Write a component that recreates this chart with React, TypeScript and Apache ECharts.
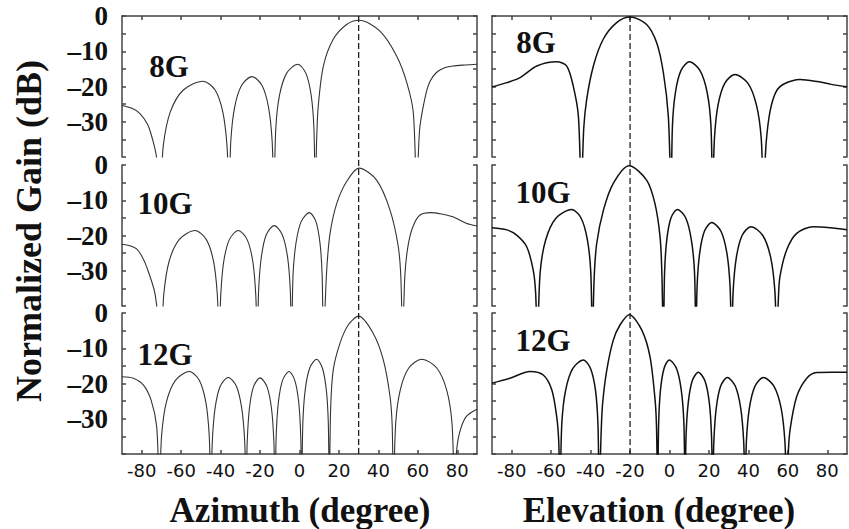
import React, { useEffect, useRef } from "react";
import * as echarts from "echarts";

const xTickValues = [-80, -60, -40, -20, 0, 20, 40, 60, 80];
const yLabelValues = [0, -10, -20, -30];
const freqLabels = ["8G", "10G", "12G"];
const beamAzimuth = 30;
const beamElevation = -20;

const az8 = [
  [-90, -25.4], [-85, -26.2], [-81, -27.6], [-77, -30.8], [-74.5, -35], [-72.5, -40], [-70.7, -50],
  [-69.0, -36.5], [-65.5, -27.2], [-58.9, -21.0], [-48.9, -18.5], [-42.8, -21.0], [-38.9, -27.2], [-36.8, -36.5], [-35.7, -50],
  [-34.8, -35.2], [-32.9, -25.9], [-29.4, -19.7], [-24.1, -17.2], [-19.0, -19.7], [-15.7, -25.9], [-13.9, -35.2], [-13.0, -50],
  [-12.0, -31.7], [-10.1, -22.4], [-6.5, -16.2], [-0.9, -13.7], [3.2, -16.2], [5.9, -22.4], [7.3, -31.7], [8.0, -50],
  [8.7, -35], [9.5, -25.6], [12.1, -14.2], [17.1, -6.6], [23.9, -2.4], [30.3, -1.2], [40.8, -4.3], [49.3, -11.4], [54.4, -18.9], [57.7, -27.4], [59.4, -50],
  [60.2, -40], [61.1, -31.2], [64.2, -21.8], [66.2, -18.5], [69.3, -16.1], [73, -14.8], [77.8, -14.2], [84, -13.9], [90, -13.7],
];

const el8 = [
  [-90, -20.1], [-82.5, -18.9], [-75.8, -17.5], [-67.3, -14.2], [-57.2, -13.0], [-52.1, -14.2], [-48.8, -19.9], [-46.2, -28.4], [-44.7, -50],
  [-43.5, -32], [-42.0, -23.7], [-38.6, -14.2], [-33.6, -6.6], [-26.8, -1.9], [-20.0, -0.3], [-11.6, -2.4], [-6.5, -7.6], [-3.1, -16.1], [-0.6, -28.4], [0.8, -50],
  [1.5, -31.0], [3.0, -21.7], [5.8, -15.5], [10.1, -13.0], [15.5, -15.5], [19.1, -21.7], [21.0, -31.0], [21.9, -50],
  [22.8, -34.6], [24.6, -25.3], [28.0, -19.1], [33.2, -16.6], [39.8, -19.1], [44.1, -25.3], [46.5, -34.6], [47.6, -50],
  [49.0, -36], [51.0, -27], [54.0, -21.5], [58.0, -19.3], [66.2, -18.0], [75, -18.6], [82, -19.4], [90, -20.1],
];

const az10 = [
  [-90, -22.5], [-86, -22.9], [-82.6, -23.8], [-80, -25.8], [-77.5, -28.9], [-73.3, -36.4], [-70.2, -50],
  [-68.8, -36.6], [-66.1, -27.3], [-60.9, -21.1], [-53.0, -18.6], [-47.3, -21.1], [-43.6, -27.3], [-41.7, -36.6], [-40.7, -50],
  [-39.9, -36.6], [-38.4, -27.3], [-35.5, -21.1], [-31.1, -18.6], [-26.6, -21.1], [-23.7, -27.3], [-22.2, -36.6], [-21.4, -50],
  [-20.7, -35.2], [-19.3, -25.9], [-16.8, -19.7], [-12.8, -17.2], [-8.8, -19.7], [-6.1, -25.9], [-4.7, -35.2], [-4.0, -50],
  [-3.3, -31.5], [-1.8, -22.2], [0.9, -16.0], [5.0, -13.5], [8.3, -16.0], [10.4, -22.2], [11.5, -31.5], [12.1, -50],
  [13.8, -29.8], [15.5, -19.4], [18.9, -10.9], [23.9, -4.7], [30.2, -0.9], [39.1, -4.3], [45.9, -12.8], [50.1, -23.2], [51.4, -32], [52.3, -50],
  [53.4, -31.6], [55.0, -23], [57.5, -17.5], [61.1, -14.2], [66.5, -13.5], [72, -13.9], [77.8, -14.7], [84.5, -16.5], [90, -17.3],
];

const el10 = [
  [-90, -17.8], [-82.5, -18.4], [-77.5, -19.9], [-72.4, -23.2], [-69.1, -29.8], [-67.9, -36], [-67.0, -50],
  [-65.6, -30.6], [-62.8, -21.3], [-57.6, -15.1], [-49.6, -12.6], [-44.8, -15.1], [-41.6, -21.3], [-39.9, -30.6], [-39.1, -50],
  [-38.2, -32], [-36.9, -22.2], [-33.5, -12.8], [-28.5, -5.2], [-20.5, -0.2], [-11.6, -4.3], [-7.4, -10.9], [-4.8, -20.3], [-3.9, -30], [-3.1, -50],
  [-2.5, -30.6], [-1.4, -21.3], [0.7, -15.1], [4.0, -12.6], [8.3, -15.1], [11.1, -21.3], [12.7, -30.6], [13.4, -50],
  [14.0, -34.3], [15.3, -25.0], [17.7, -18.8], [21.4, -16.3], [26.1, -18.8], [29.1, -25.0], [30.7, -34.3], [31.5, -50],
  [32.3, -35.5], [33.9, -26.2], [36.8, -20.0], [41.3, -17.5], [47.3, -20.0], [51.3, -26.2], [53.4, -35.5], [54.4, -50],
  [55.2, -38], [56, -31.7], [59.4, -24.1], [64.5, -19.4], [73, -17.5], [81.4, -17.8], [90, -18.4],
];

const az12 = [
  [-90, -18.1], [-84.3, -18.5], [-79.2, -20.4], [-75.2, -24.8], [-72.4, -32.3], [-71.1, -50],
  [-69.9, -34.6], [-67.5, -25.3], [-62.9, -19.1], [-55.9, -16.6], [-50.8, -19.1], [-47.5, -25.3], [-45.8, -34.6], [-44.9, -50],
  [-44.2, -36.3], [-42.8, -27.0], [-40.2, -20.8], [-36.1, -18.3], [-32.0, -20.8], [-29.3, -27.0], [-27.8, -36.3], [-27.1, -50],
  [-26.5, -36.4], [-25.4, -27.1], [-23.3, -20.9], [-20.0, -18.4], [-16.5, -20.9], [-14.2, -27.1], [-13.0, -36.4], [-12.4, -50],
  [-11.8, -34.6], [-10.7, -25.3], [-8.6, -19.1], [-5.3, -16.6], [-2.4, -19.1], [-0.4, -25.3], [0.6, -34.6], [1.1, -50],
  [1.7, -31.1], [2.9, -21.8], [5.2, -15.6], [8.7, -13.1], [11.6, -15.6], [13.6, -21.8], [14.6, -31.1], [15.1, -50],
  [15.8, -27], [17.1, -16.2], [20.5, -8.6], [24.7, -3.4], [30.0, -0.9], [37.4, -5.8], [42.5, -13.3], [45.9, -23.7], [47.0, -32], [47.6, -50],
  [48.8, -31.1], [51.1, -21.8], [55.4, -15.6], [62.0, -13.1], [69.6, -15.6], [74.6, -21.8], [77.3, -31.1], [78.6, -50],
  [79.5, -40], [81.1, -34.1], [84.5, -29.4], [90, -27.3],
];

const el12 = [
  [-90, -19.9], [-80.9, -18.5], [-70.7, -16.6], [-64.0, -17.6], [-59.7, -21.8], [-57.2, -29.4], [-56.2, -36], [-55.5, -50],
  [-54.6, -31.3], [-52.7, -22.0], [-49.1, -15.8], [-43.7, -13.3], [-40.0, -15.8], [-37.5, -22.0], [-36.3, -31.3], [-35.6, -50],
  [-34.6, -33], [-33.9, -25.6], [-31.8, -16.2], [-28.5, -7.7], [-25.1, -3.4], [-20.4, -0.5], [-14.1, -4.8], [-9.9, -12.4], [-7.3, -24.7], [-6.6, -32], [-6.0, -50],
  [-5.5, -31.3], [-4.6, -22.0], [-2.8, -15.8], [-0.1, -13.3], [3.6, -15.8], [6.0, -22.0], [7.3, -31.3], [7.9, -50],
  [8.4, -34.8], [9.5, -25.5], [11.5, -19.3], [14.6, -16.8], [18.0, -19.3], [20.2, -25.5], [21.3, -34.8], [21.9, -50],
  [22.5, -36.3], [23.7, -27.0], [25.9, -20.8], [29.3, -18.3], [33.4, -20.8], [36.1, -27.0], [37.6, -36.3], [38.3, -50],
  [39.0, -36.3], [40.5, -27.0], [43.3, -20.8], [47.6, -18.3], [53.0, -20.8], [56.6, -27.0], [58.5, -36.3], [59.4, -50],
  [60.2, -40], [61.1, -33.2], [64.5, -23.7], [69.6, -18.5], [74.7, -16.9], [82, -16.8], [90, -16.8],
];

const SERIF = '"Liberation Serif", "Times New Roman", Times, serif';
const SANS = '"DejaVu Sans", Verdana, sans-serif';
const AXIS_COLOR = "#444";

export default function App() {
  const ref = useRef<HTMLDivElement>(null);

  useEffect(() => {
    const chart = echarts.init(ref.current!, null, { renderer: "svg" });
    const curves = [az8, el8, az10, el10, az12, el12];
    const colLeft = [122, 492];
    const rowTop = [16, 165, 313];
    const W = 355;
    const H = 141;

    const grids: any[] = [];
    const xAxes: any[] = [];
    const yAxes: any[] = [];
    const series: any[] = [];
    const axisLineStyle = { color: AXIS_COLOR, width: 1.5 };

    for (let i = 0; i < 6; i++) {
      const row = Math.floor(i / 2);
      const col = i % 2;
      grids.push({ left: colLeft[col], top: rowTop[row], width: W, height: H, containLabel: false });
      const isBottom = row === 2;
      xAxes.push({
        type: "value",
        gridIndex: i,
        min: -90,
        max: 90,
        position: "bottom",
        axisLine: { show: isBottom, onZero: false, lineStyle: axisLineStyle },
        axisTick: { show: isBottom, inside: true, length: 4, customValues: xTickValues, lineStyle: axisLineStyle },
        axisLabel: {
          show: isBottom,
          customValues: xTickValues,
          fontFamily: SANS,
          fontSize: 18,
          color: "#111",
          margin: 7,
        },
        splitLine: { show: false },
      });
      yAxes.push({
        type: "value",
        gridIndex: i,
        min: -40,
        max: 0,
        interval: 5,
        position: "left",
        axisLine: { show: true, onZero: false, lineStyle: axisLineStyle },
        axisTick: { show: true, inside: true, length: 4, lineStyle: axisLineStyle },
        axisLabel: {
          show: col === 0,
          customValues: yLabelValues,
          fontFamily: SERIF,
          fontWeight: "bold",
          fontSize: 27,
          color: "#111",
          margin: 14,
          padding: [6, 0, 0, 0],
          formatter: (v: number) => (v < 0 ? "\u2013" + Math.abs(v) : String(v)),
        },
        splitLine: { show: false },
      });
      series.push({
        type: "line",
        xAxisIndex: i,
        yAxisIndex: i,
        data: curves[i],
        showSymbol: false,
        symbol: "none",
        smooth: 0.3,
        clip: true,
        lineStyle: { color: col === 0 ? "#333" : "#111", width: col === 0 ? 1.1 : 1.5 },
        silent: true,
      });
    }
    // right-side frame axes
    for (let i = 0; i < 6; i++) {
      yAxes.push({
        type: "value",
        gridIndex: i,
        min: -40,
        max: 0,
        interval: 5,
        position: "right",
        axisLine: { show: true, onZero: false, lineStyle: axisLineStyle },
        axisTick: { show: true, inside: true, length: 4, lineStyle: axisLineStyle },
        axisLabel: { show: false },
        splitLine: { show: false },
      });
    }
    // top frame axes for the first row
    for (let i = 0; i < 2; i++) {
      xAxes.push({
        type: "value",
        gridIndex: i,
        min: -90,
        max: 90,
        position: "top",
        axisLine: { show: true, onZero: false, lineStyle: axisLineStyle },
        axisTick: { show: true, inside: true, length: 4, customValues: xTickValues, lineStyle: axisLineStyle },
        axisLabel: { show: false },
        splitLine: { show: false },
      });
    }

    const labelPos = [
      [169, 66], [536, 42],
      [165, 203], [543, 192],
      [165, 354], [543, 340],
    ];
    const texts: any[] = labelPos.map((p, i) => ({
      type: "text",
      id: "freq" + i,
      x: p[0],
      y: p[1],
      style: {
        text: freqLabels[Math.floor(i / 2)],
        font: `bold 31px ${SERIF}`,
        fill: "#111",
        align: "center",
        verticalAlign: "middle",
      },
    }));
    texts.push(
      {
        type: "text",
        id: "xtitleL",
        x: 300,
        y: 510,
        style: { text: "Azimuth (degree)", font: `bold 35px ${SERIF}`, fill: "#111", align: "center", verticalAlign: "middle" },
      },
      {
        type: "text",
        id: "xtitleR",
        x: 659,
        y: 510,
        style: { text: "Elevation (degree)", font: `bold 35px ${SERIF}`, fill: "#111", align: "center", verticalAlign: "middle" },
      },
      {
        type: "text",
        id: "ytitle",
        x: 29,
        y: 231,
        rotation: Math.PI / 2,
        style: { text: "Normalized Gain (dB)", font: `bold 36px ${SERIF}`, fill: "#111", align: "center", verticalAlign: "middle" },
      }
    );

    const option: any = {
      animation: false,
      backgroundColor: "#fff",
      grid: grids,
      xAxis: xAxes,
      yAxis: yAxes,
      series,
      graphic: { elements: texts },
    };
    chart.setOption(option);

    const topL = chart.convertToPixel({ seriesIndex: 0 }, [beamAzimuth, 0]) as number[];
    const botL = chart.convertToPixel({ seriesIndex: 4 }, [beamAzimuth, -40]) as number[];
    const topR = chart.convertToPixel({ seriesIndex: 1 }, [beamElevation, 0]) as number[];
    const botR = chart.convertToPixel({ seriesIndex: 5 }, [beamElevation, -40]) as number[];
    const dashStyle = { stroke: "#111", lineWidth: 1.2, lineDash: [6, 3] };
    chart.setOption({
      graphic: {
        elements: [
          ...texts,
          { type: "line", id: "beamL", z: 10, shape: { x1: topL[0], y1: topL[1], x2: botL[0], y2: botL[1] }, style: dashStyle },
          { type: "line", id: "beamR", z: 10, shape: { x1: topR[0], y1: topR[1], x2: botR[0], y2: botR[1] }, style: dashStyle },
        ],
      },
    });

    return () => chart.dispose();
  }, []);

  return (
    <div
      ref={ref}
      style={{ position: "absolute", left: 0, top: 0, width: 849, height: 529, background: "#fff" }}
    />
  );
}
